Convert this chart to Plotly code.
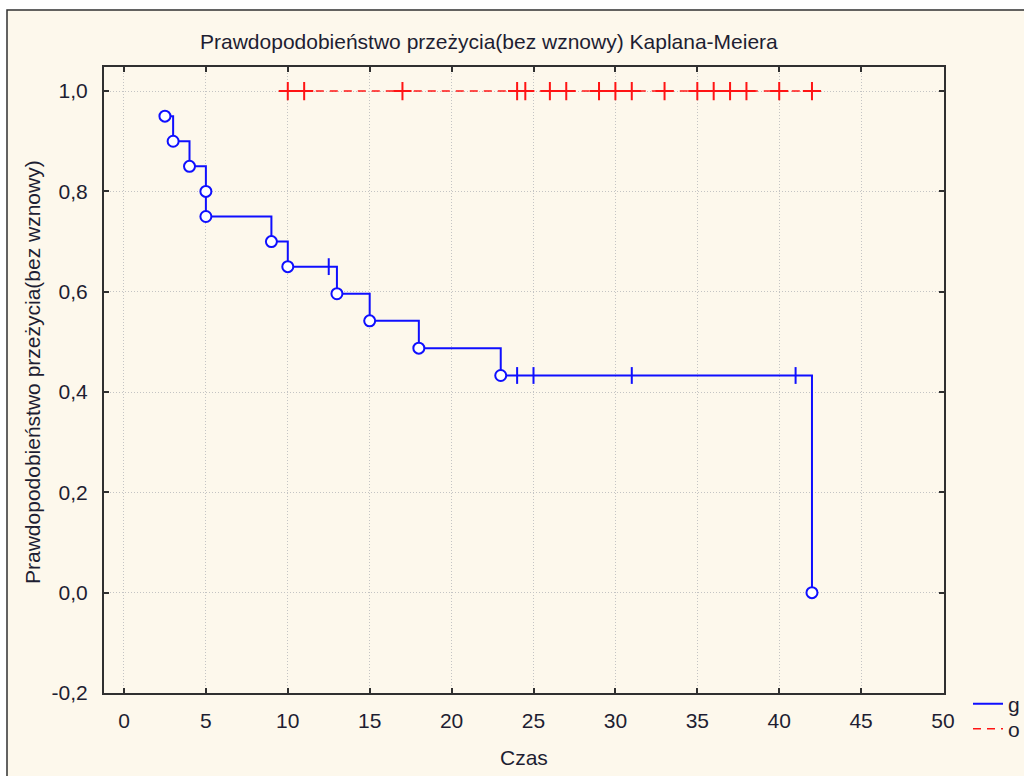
import plotly.graph_objects as go

# ---- data ----
g_time = [2.5, 3, 4, 5, 5, 9, 10, 12.5, 13, 15, 18, 23, 24, 25, 31, 41, 42]
g_surv = [0.95, 0.90, 0.85, 0.80, 0.75, 0.70, 0.65, 0.65, 0.596, 0.542, 0.4875, 0.433,
          0.433, 0.433, 0.433, 0.433, 0.0]
g_censored = [0, 0, 0, 0, 0, 0, 0, 1, 0, 0, 0, 0, 1, 1, 1, 1, 0]

o_time = [10, 11, 17, 24, 24.5, 26, 27, 29, 30, 31, 33, 35, 36, 37, 38, 40, 42]
o_surv = [1.0] * len(o_time)

x_ticks = [0, 5, 10, 15, 20, 25, 30, 35, 40, 45, 50]
y_ticks = [-0.2, 0.0, 0.2, 0.4, 0.6, 0.8, 1.0]
y_ticklabels = ["-0,2", "0,0", "0,2", "0,4", "0,6", "0,8", "1,0"]

title_text = "Prawdopodobieństwo przeżycia(bez wznowy) Kaplana-Meiera"
y_title = "Prawdopodobieństwo przeżycia(bez wznowy)"
x_title = "Czas"

BLUE = "#0F0FFF"
RED = "#FF1414"
TXT = "#1E1E32"
FONT = "Liberation Sans, Arial, sans-serif"
FS = 21

W, H = 1024, 776
L, R, T, B = 104, 80, 67, 83
pw, ph = W - L - R, H - T - B

fig = go.Figure()

# blue line (legend g)
fig.add_trace(go.Scatter(x=g_time, y=g_surv, mode="lines", line_shape="hv",
                         line=dict(color=BLUE, width=2), name="g", legend="legend"))
ev_x = [t for t, c in zip(g_time, g_censored) if not c]
ev_y = [s for s, c in zip(g_surv, g_censored) if not c]
ce_x = [t for t, c in zip(g_time, g_censored) if c]
ce_y = [s for s, c in zip(g_surv, g_censored) if c]
fig.add_trace(go.Scatter(x=ev_x, y=ev_y, mode="markers", showlegend=False,
                         marker=dict(symbol="circle", size=11, color="white",
                                     line=dict(color=BLUE, width=2))))
fig.add_trace(go.Scatter(x=ce_x, y=ce_y, mode="markers", showlegend=False,
                         marker=dict(symbol="line-ns", size=12,
                                     line=dict(color=BLUE, width=2))))

# red dashed line (legend o)
fig.add_trace(go.Scatter(x=o_time, y=o_surv, mode="lines",
                         line=dict(color=RED, width=1.5, dash="8px,6px"), name="o",
                         legend="legend2"))
fig.add_trace(go.Scatter(x=o_time, y=o_surv, mode="markers", showlegend=False,
                         marker=dict(symbol="cross-thin", size=13,
                                     line=dict(color=RED, width=2))))

axis_common = dict(showline=True, linecolor="#303030", linewidth=2, mirror="ticks",
                   ticks="inside", ticklen=5, tickwidth=1.5, tickcolor="#303030",
                   showgrid=True, gridcolor="#C4C4C4", griddash="1px,2px", gridwidth=1,
                   zeroline=False, tickfont=dict(family=FONT, size=FS, color=TXT))

fig.update_xaxes(range=[-1.22, 50.06], tickvals=x_ticks, ticktext=[str(v) for v in x_ticks],
                 ticklabelstandoff=8, automargin=False, **axis_common)
fig.update_yaxes(range=[-0.2, 1.048], tickvals=y_ticks, ticktext=y_ticklabels,
                 ticklabelstandoff=10, automargin=False, **axis_common)

leg_common = dict(xanchor="left", yanchor="middle", bgcolor="rgba(0,0,0,0)",
                  borderwidth=0, font=dict(family=FONT, size=FS, color=TXT))

fig.update_layout(
    width=W, height=H,
    margin=dict(l=L, r=R, t=T, b=B, autoexpand=False),
    paper_bgcolor="white", plot_bgcolor="white",
    font=dict(family=FONT, color=TXT, size=FS),
    showlegend=True,
    legend=dict(x=(968 - L) / pw, y=(H - B - 704) / ph, **leg_common),
    legend2=dict(x=(968 - L) / pw, y=(H - B - 729) / ph, **leg_common),
    shapes=[dict(type="rect", xref="paper", yref="paper", layer="below",
                 x0=(7 - L) / pw, x1=(W + 20 - L) / pw,
                 y0=(H - B - (H + 20)) / ph, y1=(H - B - 10) / ph,
                 fillcolor="#FDF8EC", line=dict(color="#303030", width=1.5))],
    annotations=[
        dict(text=title_text, xref="paper", yref="paper",
             x=(489 - L) / pw, y=(H - B - 41) / ph, showarrow=False,
             xanchor="center", yanchor="middle", font=dict(family=FONT, size=FS, color=TXT)),
        dict(text=y_title, xref="paper", yref="paper", textangle=-90,
             x=(33 - L) / pw, y=(H - B - 372) / ph, showarrow=False,
             xanchor="center", yanchor="middle", font=dict(family=FONT, size=FS, color=TXT)),
        dict(text=x_title, xref="paper", yref="paper",
             x=(524 - L) / pw, y=(H - B - 757) / ph, showarrow=False,
             xanchor="center", yanchor="middle", font=dict(family=FONT, size=FS, color=TXT)),
    ],
)

fig.write_html("out.html")
